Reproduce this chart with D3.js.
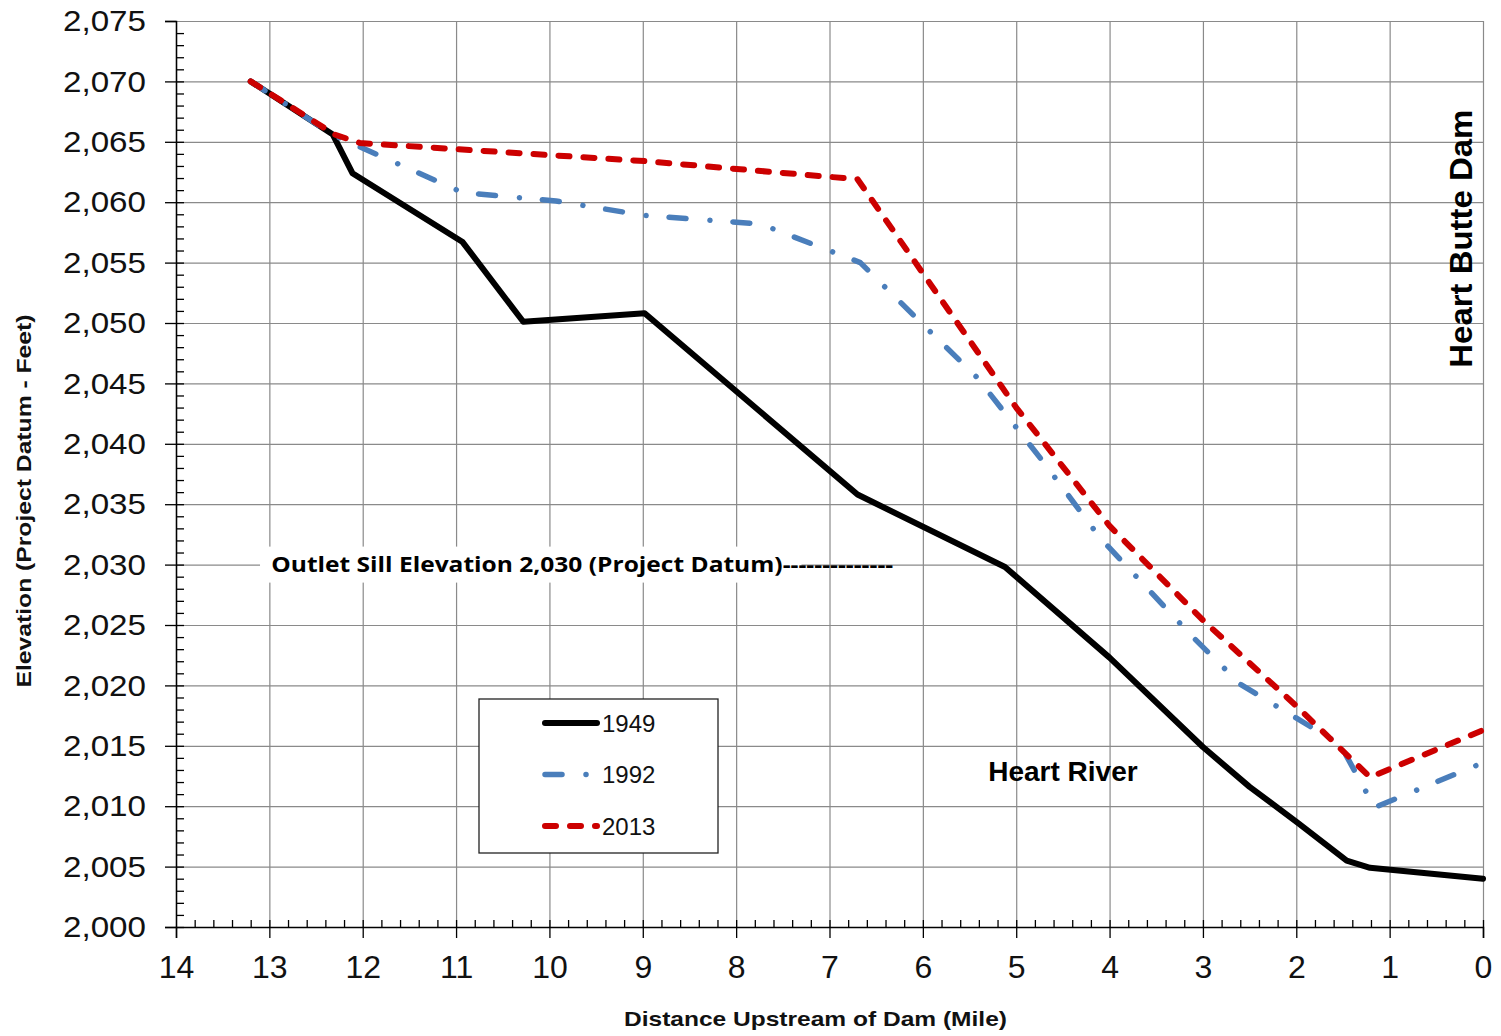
<!DOCTYPE html>
<html>
<head>
<meta charset="utf-8">
<script src="https://cdn.jsdelivr.net/npm/d3@7"></script>
<style>
  body { margin: 0; background: #fff; }
  svg { display: block; font-family: Arial, "Liberation Sans", sans-serif; }
</style>
</head>
<body>
<script>
// series values
var miles1949 = [13.2, 12.32, 12.11, 10.93, 10.28, 8.98, 6.7, 5.12, 4.0, 3.0, 2.5, 1.98, 1.46, 1.21, 0];
var elev1949  = [2070, 2065.6, 2062.4, 2056.7, 2050.1, 2050.8, 2035.8, 2029.8, 2022.3, 2014.9, 2011.6, 2008.6, 2005.5, 2004.9, 2004.0];

var miles1992 = [13.2, 12.3, 10.93, 9.93, 8.98, 7.74, 6.67, 5.95, 5.42, 4.7, 4.1, 3.12, 2.6, 1.53, 1.16, 0];
var elev1992  = [2070, 2065.5, 2060.8, 2060.1, 2058.9, 2058.2, 2055.0, 2049.5, 2045.5, 2038.4, 2032.2, 2024.1, 2020.1, 2015.1, 2009.9, 2013.6];

var miles2013 = [13.2, 12.3, 12.03, 8.98, 6.7, 5.0, 4.0, 3.0, 2.0, 1.21, 0];
var elev2013  = [2070, 2065.6, 2064.9, 2063.4, 2061.9, 2043.0, 2033.2, 2025.4, 2018.3, 2012.4, 2016.3];

var seriesNames = ["1949", "1992", "2013"];
var xTicks = d3.range(0, 15, 1);
var yTicks = d3.range(2000, 2076, 5);

window.onload = function() {
    var totalWidth = 1501,
        totalHeight = 1036;
    var margin = {"left": 176, "right": 18, "top": 21, "bottom": 109};
    var graphWidth = totalWidth - margin.left - margin.right,
        graphHeight = totalHeight - margin.top - margin.bottom;

    var svg = d3.select("body").append("svg")
        .attr("width", totalWidth)
        .attr("height", totalHeight);

    var g = svg.append("g")
        .attr("transform", "translate(" + margin.left + "," + margin.top + ")");

    var x = d3.scaleLinear().domain([14, 0]).range([0, graphWidth]);
    var y = d3.scaleLinear().domain([2000, 2075]).range([graphHeight, 0]);

    // gridlines
    g.append("g")
        .attr("class", "grid")
        .call(d3.axisLeft(y).tickValues(yTicks).tickSize(-graphWidth).tickFormat(""))
        .call(function(s) { s.select(".domain").remove(); });
    g.append("g")
        .attr("class", "grid")
        .attr("transform", "translate(0," + graphHeight + ")")
        .call(d3.axisBottom(x).tickValues(xTicks).tickSize(-graphHeight).tickFormat(""))
        .call(function(s) { s.select(".domain").remove(); });
    g.selectAll(".grid line").attr("stroke", "#8a8a8a").attr("stroke-width", 1.2);

    // text box behind outlet sill label hides the grid
    g.append("rect")
        .attr("x", x(13.1))
        .attr("y", y(2030) - 18)
        .attr("width", x(7.3) - x(13.1))
        .attr("height", 36)
        .attr("fill", "#fff");

    // minor ticks (inside)
    g.append("g")
        .call(d3.axisLeft(y).tickValues(d3.range(2000, 2075, 1)).tickSize(-8).tickFormat(""))
        .call(function(s) { s.select(".domain").remove(); });
    g.append("g")
        .attr("transform", "translate(0," + graphHeight + ")")
        .call(d3.axisBottom(x).tickValues(d3.range(0, 70, 1).map(function(d) { return d / 5; })).tickSize(-7).tickFormat(""))
        .call(function(s) { s.select(".domain").remove(); });

    // major axes
    var yAxis = g.append("g")
        .call(d3.axisLeft(y).tickValues(yTicks).tickSize(11).tickPadding(19).tickFormat(d3.format(",")));
    yAxis.selectAll("text")
        .attr("font-size", 30)
        .attr("fill", "#111")
        .attr("textLength", 83)
        .attr("lengthAdjust", "spacingAndGlyphs");

    var xAxis = g.append("g")
        .attr("transform", "translate(0," + graphHeight + ")")
        .call(d3.axisBottom(x).tickValues(xTicks).tickSize(11).tickPadding(17));
    xAxis.selectAll("text")
        .attr("font-size", 32)
        .attr("fill", "#111");

    g.selectAll(".tick line").filter(function() { return !this.closest(".grid"); })
        .attr("stroke", "#000").attr("stroke-width", 1.3);
    g.selectAll(".domain").attr("stroke", "#000").attr("stroke-width", 1.5);

    // series lines
    var line = d3.line()
        .x(function(d) { return x(d[0]); })
        .y(function(d) { return y(d[1]); });

    var series = [
        {name: "1949", data: d3.zip(miles1949, elev1949), color: "#000", width: 6, dash: null},
        {name: "1992", data: d3.zip(miles1992, elev1992), color: "#4a7ebb", width: 5.5, dash: "17,24,0.01,23"},
        {name: "2013", data: d3.zip(miles2013, elev2013), color: "#cc0000", width: 6, dash: "11,14"}
    ];

    g.selectAll(".series")
        .data(series).enter()
        .append("path")
        .attr("class", "series")
        .attr("d", function(d) { return line(d.data); })
        .attr("fill", "none")
        .attr("stroke", function(d) { return d.color; })
        .attr("stroke-width", function(d) { return d.width; })
        .attr("stroke-dasharray", function(d) { return d.dash; })
        .attr("stroke-linecap", "round")
        .attr("stroke-linejoin", "round");

    // annotations
    g.append("text")
        .attr("x", x(12.98))
        .attr("y", y(2030) + 7)
        .attr("font-family", "'Open Sans', sans-serif")
        .attr("font-weight", "bold")
        .attr("font-size", 22)
        .attr("textLength", 622)
        .attr("lengthAdjust", "spacingAndGlyphs")
        .text("Outlet Sill Elevation 2,030 (Project Datum)--------------");

    g.append("text")
        .attr("x", x(5.3))
        .attr("y", y(2012.4) + 4)
        .attr("font-weight", "bold")
        .attr("font-size", 28)
        .text("Heart River");

    g.append("text")
        .attr("transform", "translate(" + x(0.12) + "," + y(2046.3) + ") rotate(-90)")
        .attr("font-weight", "bold")
        .attr("font-size", 32)
        .attr("textLength", 258)
        .attr("lengthAdjust", "spacingAndGlyphs")
        .text("Heart Butte Dam");

    // axis titles
    svg.append("text")
        .attr("x", margin.left + x(7.15))
        .attr("y", 1026)
        .attr("text-anchor", "middle")
        .attr("font-weight", "bold")
        .attr("font-size", 21)
        .attr("fill", "#111")
        .attr("textLength", 383)
        .attr("lengthAdjust", "spacingAndGlyphs")
        .text("Distance Upstream of Dam (Mile)");

    svg.append("text")
        .attr("transform", "translate(31,501) rotate(-90)")
        .attr("text-anchor", "middle")
        .attr("font-weight", "bold")
        .attr("font-size", 21)
        .attr("fill", "#111")
        .attr("textLength", 373)
        .attr("lengthAdjust", "spacingAndGlyphs")
        .text("Elevation (Project Datum - Feet)");

    // legend
    var legend = svg.append("g").attr("transform", "translate(479,699)");
    legend.append("rect")
        .attr("width", 239)
        .attr("height", 154)
        .attr("fill", "#fff")
        .attr("stroke", "#222")
        .attr("stroke-width", 1.3);

    var items = legend.selectAll(".legend")
        .data(series).enter()
        .append("g")
        .attr("class", "legend")
        .attr("transform", function(d, i) { return "translate(0," + (24 + i * 51.5) + ")"; });

    items.append("line")
        .attr("x1", 66)
        .attr("x2", 118)
        .attr("stroke", function(d) { return d.color; })
        .attr("stroke-width", function(d) { return d.width; })
        .attr("stroke-dasharray", function(d) { return d.dash; })
        .attr("stroke-linecap", "round");

    items.append("text")
        .attr("x", 123)
        .attr("dy", "0.36em")
        .attr("font-size", 24)
        .attr("fill", "#111")
        .text(function(d, i) { return seriesNames[i]; });
};
</script>
</body>
</html>
